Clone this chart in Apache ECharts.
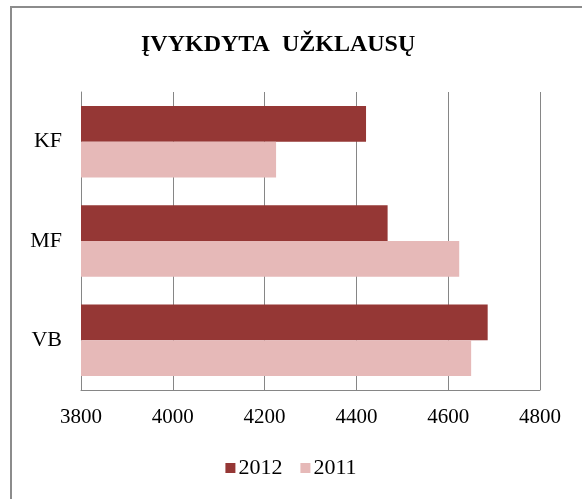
<!DOCTYPE html>
<html>
<head>
<meta charset="utf-8">
<script src="https://cdn.jsdelivr.net/npm/echarts@6/dist/echarts.min.js"></script>
<style>
  html, body { margin: 0; padding: 0; background: #ffffff; }
  #main { width: 582px; height: 499px; }
</style>
</head>
<body>
<div id="main"></div>
<script>
const categories = ['VB', 'MF', 'KF'];
const values2012 = [4686, 4468, 4421];
const values2011 = [4650, 4624, 4225];
const xTicks = [3800, 4000, 4200, 4400, 4600, 4800];

const serif = '"Liberation Serif", "DejaVu Serif", serif';
const chart = echarts.init(document.getElementById('main'));

const option = {
  backgroundColor: '#ffffff',
  animation: false,
  title: {
    text: 'ĮVYKDYTA  UŽKLAUSŲ',
    left: 136,
    top: 28,
    textStyle: { fontFamily: serif, fontSize: 24, fontWeight: 'bold', color: '#000000' }
  },
  graphic: [{
    // outer chart border
    type: 'rect',
    shape: { x: 11, y: 7, width: 620, height: 540 },
    style: { fill: 'none', stroke: '#8c8c8c', lineWidth: 2 },
    silent: true,
    z: 100
  }],
  legend: {
    data: ['2012', '2011'],
    bottom: 15,
    left: 'center',
    icon: 'rect',
    itemWidth: 10,
    itemHeight: 10,
    itemGap: 18,
    textStyle: { fontFamily: serif, fontSize: 22, color: '#000000', padding: [0, 0, 0, -2] }
  },
  grid: { left: 81, right: 42, top: 92, bottom: 109 },
  xAxis: {
    type: 'value',
    min: xTicks[0],
    max: xTicks[xTicks.length - 1],
    interval: 200,
    axisLine: { show: true, lineStyle: { color: '#868686', width: 1 } },
    axisTick: { show: false },
    axisLabel: { fontFamily: serif, fontSize: 21, color: '#000000', margin: 17, formatter: v => String(v) },
    splitLine: { show: true, lineStyle: { color: '#868686', width: 1 } }
  },
  yAxis: {
    type: 'category',
    data: categories,
    axisLine: { show: true, lineStyle: { color: '#868686', width: 1 } },
    axisTick: { show: false },
    axisLabel: { fontFamily: serif, fontSize: 22, color: '#000000', margin: 19 }
  },
  series: [
    {
      name: '2012',
      type: 'bar',
      data: values2012,
      itemStyle: { color: '#953735' },
      barGap: '0%',
      barCategoryGap: '28%'
    },
    {
      name: '2011',
      type: 'bar',
      data: values2011,
      itemStyle: { color: '#e6b9b8' }
    }
  ]
};
chart.setOption(option);
</script>
</body>
</html>
